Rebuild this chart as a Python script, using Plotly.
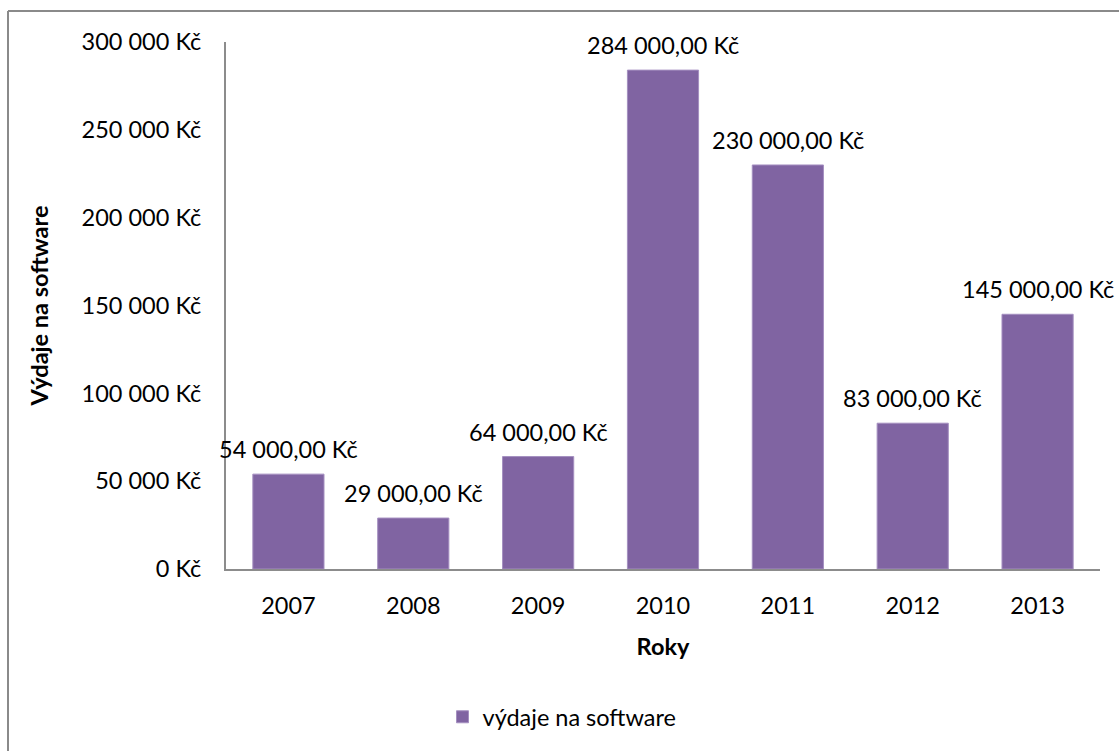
import plotly.graph_objects as go

# Annual software spending (CZK)
years = ["2007", "2008", "2009", "2010", "2011", "2012", "2013"]
spending = [54000, 29000, 64000, 284000, 230000, 83000, 145000]
y_ticks = [0, 50000, 100000, 150000, 200000, 250000, 300000]

W, H = 1119, 751
L, R, T, B = 226, 19, 42, 182
pw, ph = W - L - R, H - T - B

FONT = "Lato"
FS = 23.5
purple = "#8064A2"
axis_grey = "#8c8c8c"

def kc(v, dec=0):
    s = f"{v:,.{dec}f}".replace(",", " ").replace(".", ",")
    return s + " Kč"

def px_x(x):
    return (x - L) / pw

def px_y(y):
    return (T + ph - y) / ph

fig = go.Figure()
fig.add_trace(go.Bar(
    x=years, y=spending, name="výdaje na software",
    marker=dict(color=purple, line=dict(color="#a48fc0", width=1)),
    width=0.57,
))

# value labels above each bar
for i, v in enumerate(spending):
    fig.add_annotation(
        x=i, y=v, xref="x", yref="y", text=kc(v, 2), showarrow=False,
        yanchor="bottom", xanchor="center", yshift=9,
        font=dict(family=FONT, size=FS, color="black"),
    )

# outer chart frame (top and left edges fall inside the canvas)
frame = dict(color="#8a8a8a", width=2)
fig.add_shape(type="line", xref="paper", yref="paper",
              x0=px_x(8), x1=px_x(W + 50), y0=px_y(11), y1=px_y(11), line=frame)
fig.add_shape(type="line", xref="paper", yref="paper",
              x0=px_x(8), x1=px_x(8), y0=px_y(11), y1=px_y(H + 50), line=frame)

fig.update_layout(
    width=W, height=H,
    margin=dict(l=L, r=R, t=T, b=B, autoexpand=False),
    paper_bgcolor="white", plot_bgcolor="white",
    font=dict(family=FONT, size=FS, color="black"),
    showlegend=True,
    legend=dict(
        orientation="h", x=px_x(562), y=px_y(717),
        xanchor="center", yanchor="middle",
        font=dict(family=FONT, size=FS, color="black"),
        itemwidth=30,
    ),
    xaxis=dict(
        type="category",
        showline=True, linecolor=axis_grey, linewidth=2, ticks="",
        showgrid=False, range=[-0.5, 6.5],
        ticklabelstandoff=15,
        title=dict(text="<b>Roky</b>", standoff=20, font=dict(family=FONT, size=FS)),
        tickfont=dict(family=FONT, size=FS),
    ),
    yaxis=dict(
        showline=True, linecolor=axis_grey, linewidth=2, ticks="",
        showgrid=False, range=[0, 300000], zeroline=False,
        tickvals=y_ticks, ticktext=[kc(v) for v in y_ticks],
        ticklabelstandoff=18,
        title=dict(text="<b>Výdaje na software</b>", standoff=26, font=dict(family=FONT, size=FS)),
        tickfont=dict(family=FONT, size=FS),
    ),
)

fig.write_html("out.html")
